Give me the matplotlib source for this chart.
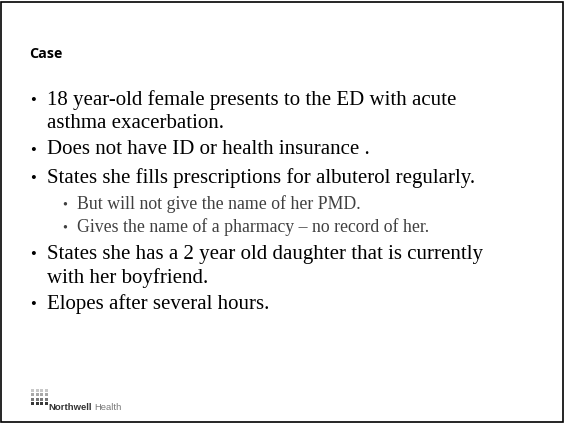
import matplotlib.pyplot as plt
from matplotlib.patches import Rectangle

W, H = 565, 424

title = "Case"
# (level, text lines) for each bullet
bullets = [
    (0, ["18 year-old female presents to the ED with acute", "asthma exacerbation."]),
    (0, ["Does not have ID or health insurance ."]),
    (0, ["States she fills prescriptions for albuterol regularly."]),
    (1, ["But will not give the name of her PMD."]),
    (1, ["Gives the name of a pharmacy \u2013 no record of her."]),
    (0, ["States she has a 2 year old daughter that is currently", "with her boyfriend."]),
    (0, ["Elopes after several hours."]),
]
line_y = [[100, 124], [150], [178], [204], [227], [254, 278], [304]]
logo_name = ("Northwell", "Health")


def fx(x):
    return x / W


def fy(y):
    return 1 - y / H


fig = plt.figure(figsize=(W / 100, H / 100), dpi=100)
fig.patch.set_facecolor("white")

# slide border
fig.patches.append(Rectangle((fx(1), fy(422)), fx(562), 420 / H, transform=fig.transFigure,
                             fill=False, edgecolor="black", linewidth=1.2))

fig.text(fx(29), fy(54), title, fontsize=10.3, fontweight="bold",
         family="Open Sans", va="center", ha="left")

for (level, lines), ys in zip(bullets, line_y):
    if level == 0:
        bx, tx, size, col = 30, 47, 15.0, "black"
    else:
        bx, tx, size, col = 62, 77, 12.8, "#404040"
    fig.text(fx(bx), fy(ys[0] + 1), "\u2022", fontsize=size * 0.8, color=col,
             family="Liberation Serif", va="center", ha="left")
    for t, y in zip(lines, ys):
        fig.text(fx(tx), fy(y), t, fontsize=size, color=col,
                 family="Liberation Serif", va="center", ha="left")

# logo: small grid of grey tiles
shades = ["#c8c8c8", "#a8a8a8", "#787878", "#383838"]
for r in range(4):
    for c in range(4):
        fig.patches.append(Rectangle((fx(31 + c * 4.6), fy(392 + r * 4.3)), 3 / W, 3 / H,
                                     transform=fig.transFigure, color=shades[r], linewidth=0))
fig.text(fx(48), fy(408), logo_name[0], fontsize=6.8, fontweight="bold", color="#333333",
         family="Liberation Sans", va="center", ha="left")
fig.text(fx(94), fy(408), logo_name[1], fontsize=6.8, color="#7a7a7a",
         family="Liberation Sans", va="center", ha="left")

fig.savefig("out.png", dpi=100)
